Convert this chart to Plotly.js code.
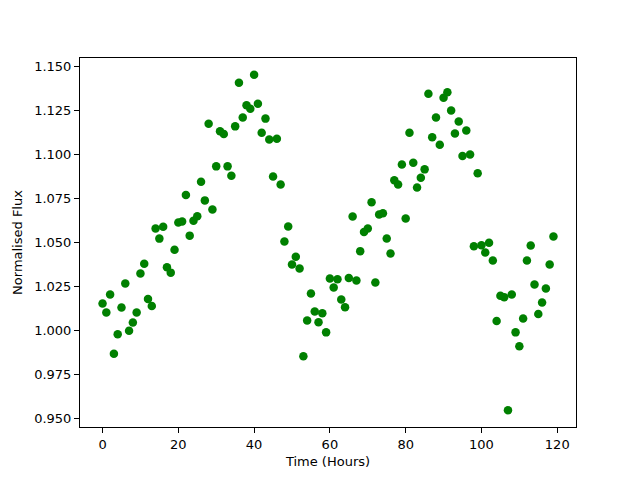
<!DOCTYPE html>
<html>
<head>
<meta charset="utf-8">
<script src="https://cdn.plot.ly/plotly-3.0.1.min.js"></script>
<style>html,body{margin:0;padding:0;background:#fff;}#chart{width:640px;height:480px;}</style>
</head>
<body>
<div id="chart"></div>
<script>
const timeHours = [0,1,2,3,4,5,6,7,8,9,10,11,12,13,14,15,16,17,18,19,20,21,22,23,24,25,26,27,28,29,30,31,32,33,34,35,36,37,38,39,40,41,42,43,44,45,46,47,48,49,50,51,52,53,54,55,56,57,58,59,60,61,62,63,64,65,66,67,68,69,70,71,72,73,74,75,76,77,78,79,80,81,82,83,84,85,86,87,88,89,90,91,92,93,94,95,96,97,98,99,100,101,102,103,104,105,106,107,108,109,110,111,112,113,114,115,116,117,118,119];
const normalisedFlux = [
1.0155,1.0104,1.0206,0.987,0.998,1.0132,1.0268,1.000,1.0047,1.0104,
1.0325,1.038,1.018,1.014,1.058,1.0523,1.059,1.036,1.033,1.046,
1.0614,1.062,1.077,1.054,1.0625,1.065,1.0846,1.074,1.1175,1.0688,
1.0933,1.1132,1.1117,1.0933,1.088,1.116,1.1408,1.121,1.128,1.126,
1.1453,1.1289,1.1124,1.1204,1.1086,1.0875,1.109,1.083,1.0507,1.0592,
1.0376,1.042,1.0353,0.9855,1.0059,1.0212,1.011,1.0048,1.010,0.9991,
1.0297,1.0246,1.0293,1.0178,1.0133,1.030,1.0648,1.0286,1.0452,1.056,
1.058,1.0729,1.0274,1.066,1.0667,1.0524,1.0439,1.0854,1.083,1.0943,
1.0637,1.1124,1.0954,1.0813,1.0869,1.0916,1.1345,1.1098,1.121,1.1056,
1.1323,1.1353,1.125,1.1119,1.1188,1.0992,1.1136,1.100,1.048,1.0894,
1.0486,1.0444,1.050,1.0399,1.0055,1.0199,1.0191,0.9549,1.0206,0.9991,
0.9912,1.007,1.0399,1.0484,1.0263,1.0095,1.016,1.024,1.0376,1.0535];
const xTicks = [0,20,40,60,80,100,120];
const yTicks = [0.950,0.975,1.000,1.025,1.050,1.075,1.100,1.125,1.150];
const yTickLabels = ["0.950","0.975","1.000","1.025","1.050","1.075","1.100","1.125","1.150"];

const font = {family: "DejaVu Sans, sans-serif", size: 13, color: "#000"};
const axisCommon = {
  showgrid: false, zeroline: false, showline: true, mirror: true,
  linecolor: "#000", linewidth: 1, ticks: "outside", ticklen: 5, tickwidth: 1,
  tickcolor: "#000", tickfont: font
};
const trace = {
  x: timeHours, y: normalisedFlux, type: "scatter", mode: "markers",
  marker: {color: "#008000", size: 8.5}, hoverinfo: "none"
};
const layout = {
  width: 640, height: 480, showlegend: false,
  paper_bgcolor: "#fff", plot_bgcolor: "#fff",
  margin: {l: 80, r: 64, t: 58, b: 53},
  xaxis: Object.assign({}, axisCommon, {
    range: [-5.95, 124.95], tickvals: xTicks,
    title: {text: "Time (Hours)", font: font, standoff: 6}
  }),
  yaxis: Object.assign({}, axisCommon, {
    range: [0.9454, 1.1548], tickvals: yTicks, ticktext: yTickLabels,
    title: {text: "Normalised Flux", font: font, standoff: 8}
  })
};
Plotly.newPlot("chart", [trace], layout, {staticPlot: true, displayModeBar: false});
</script>
</body>
</html>
